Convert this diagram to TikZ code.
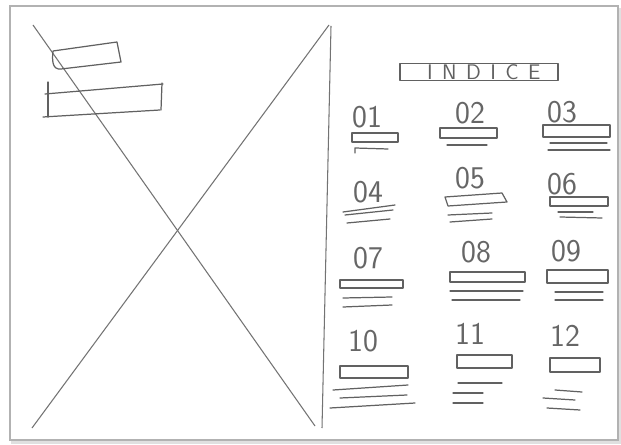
\documentclass[tikz,border=0pt]{standalone}
\usepackage{fontspec}
\newfontfamily\titlefont[LetterSpace=45]{Latin Modern Sans}
\tikzset{
  pen/.style={draw=black!62, line width=0.7pt, line cap=round, line join=round},
  cross/.style={draw=black!55, line width=0.6pt},
  frame/.style={draw=black!30, line width=0.9pt},
  num/.style={font=\sffamily\fontsize{18}{18}\selectfont, text=black!60, inner sep=0pt},
  titlebox/.style={pen, minimum width=3.16cm, minimum height=0.34cm, inner sep=0pt,
    font=\titlefont\fontsize{12}{12}\selectfont, text=black!62}
}
\begin{document}
\begin{tikzpicture}[x=0.02cm, y=-0.02cm]
        \useasboundingbox (0,0) rectangle (621,445);
        % --- Sheet ---
        \draw[black!12, line width=2pt] (13,10) rectangle (620,442);
        \draw[frame, fill=white] (10,6) rectangle (618,440);
        % --- Left page: image placeholder ---
        \coordinate (tl) at (33,25);
        \coordinate (br) at (315,426);
        \coordinate (tr) at (329,25);
        \coordinate (bl) at (32,428);
        \draw[cross] (tl) -- (br);
        \draw[cross] (tr) -- (bl);
        \coordinate (divtop) at (331,26);
        \coordinate (divbot) at (322,428);
        \draw[cross] (divtop) -- (divbot);
        % --- Left page: two boxes ---
        \draw[pen] (53,51) -- (117,42) -- (121,62) -- (61,69) .. controls (52,70) and (52,60) .. (53,51);
        \draw[pen] (45,94) -- (163,84);
        \draw[pen] (162,83) -- (161,110);
        \draw[pen] (43,117) -- (160,110);
        \draw[pen] (48,82) -- (48,117);
        % --- Right page: title ---
        \node[titlebox] (title) at (479,72) {\hspace{0.45em}INDICE};
        % --- Right page: numbers ---
        \foreach \n/\x/\y in {01/367/117, 02/470/113, 03/562/112,
                              04/368/192, 05/470/178, 06/562/184,
                              07/368/258, 08/476/252, 09/566/251,
                              10/363/341, 11/470/334, 12/565/336} {
            \node[num] (n\n) at (\x,\y) {\n};
        }
        % --- Right page: entries under the numbers ---
        % row 1
        \draw[pen] (352,133) rectangle (398,142);
        \draw[pen] (355,153) -- (355,148) -- (388,149);
        \draw[pen] (440,128) rectangle (497,138);
        \draw[pen] (447,145) -- (487,145);
        \draw[pen] (543,125) rectangle (610,137);
        \draw[pen] (550,143) -- (607,143);
        \draw[pen] (548,150) -- (610,150);
        % row 2
        \draw[pen] (343,212) -- (395,205);
        \draw[pen] (345,215) -- (393,210);
        \draw[pen] (347,223) -- (390,219);
        \draw[pen] (445,197) -- (502,193) -- (507,202) -- (448,206) -- cycle;
        \draw[pen] (448,215) -- (492,213);
        \draw[pen] (450,222) -- (492,219);
        \draw[pen] (550,197) rectangle (608,206);
        \draw[pen] (558,212) -- (593,212);
        \draw[pen] (560,217) -- (602,218);
        % row 3
        \draw[pen] (340,280) rectangle (403,288);
        \draw[pen] (343,298) -- (392,297);
        \draw[pen] (343,307) -- (392,305);
        \draw[pen] (450,272) rectangle (525,282);
        \draw[pen] (450,291) -- (523,291);
        \draw[pen] (452,300) -- (520,300);
        \draw[pen] (547,270) rectangle (608,283);
        \draw[pen] (555,292) -- (603,292);
        \draw[pen] (555,300) -- (603,300);
        % row 4
        \draw[pen] (340,366) rectangle (408,378);
        \draw[pen] (333,390) -- (408,385);
        \draw[pen] (340,398) -- (407,395);
        \draw[pen] (330,408) -- (415,403);
        \draw[pen] (457,355) rectangle (512,368);
        \draw[pen] (458,383) -- (502,383);
        \draw[pen] (453,393) -- (483,393);
        \draw[pen] (453,403) -- (483,403);
        \draw[pen] (550,358) rectangle (600,372);
        \draw[pen] (555,390) -- (582,392);
        \draw[pen] (543,398) -- (575,400);
        \draw[pen] (547,408) -- (580,410);
\end{tikzpicture}
\end{document}
